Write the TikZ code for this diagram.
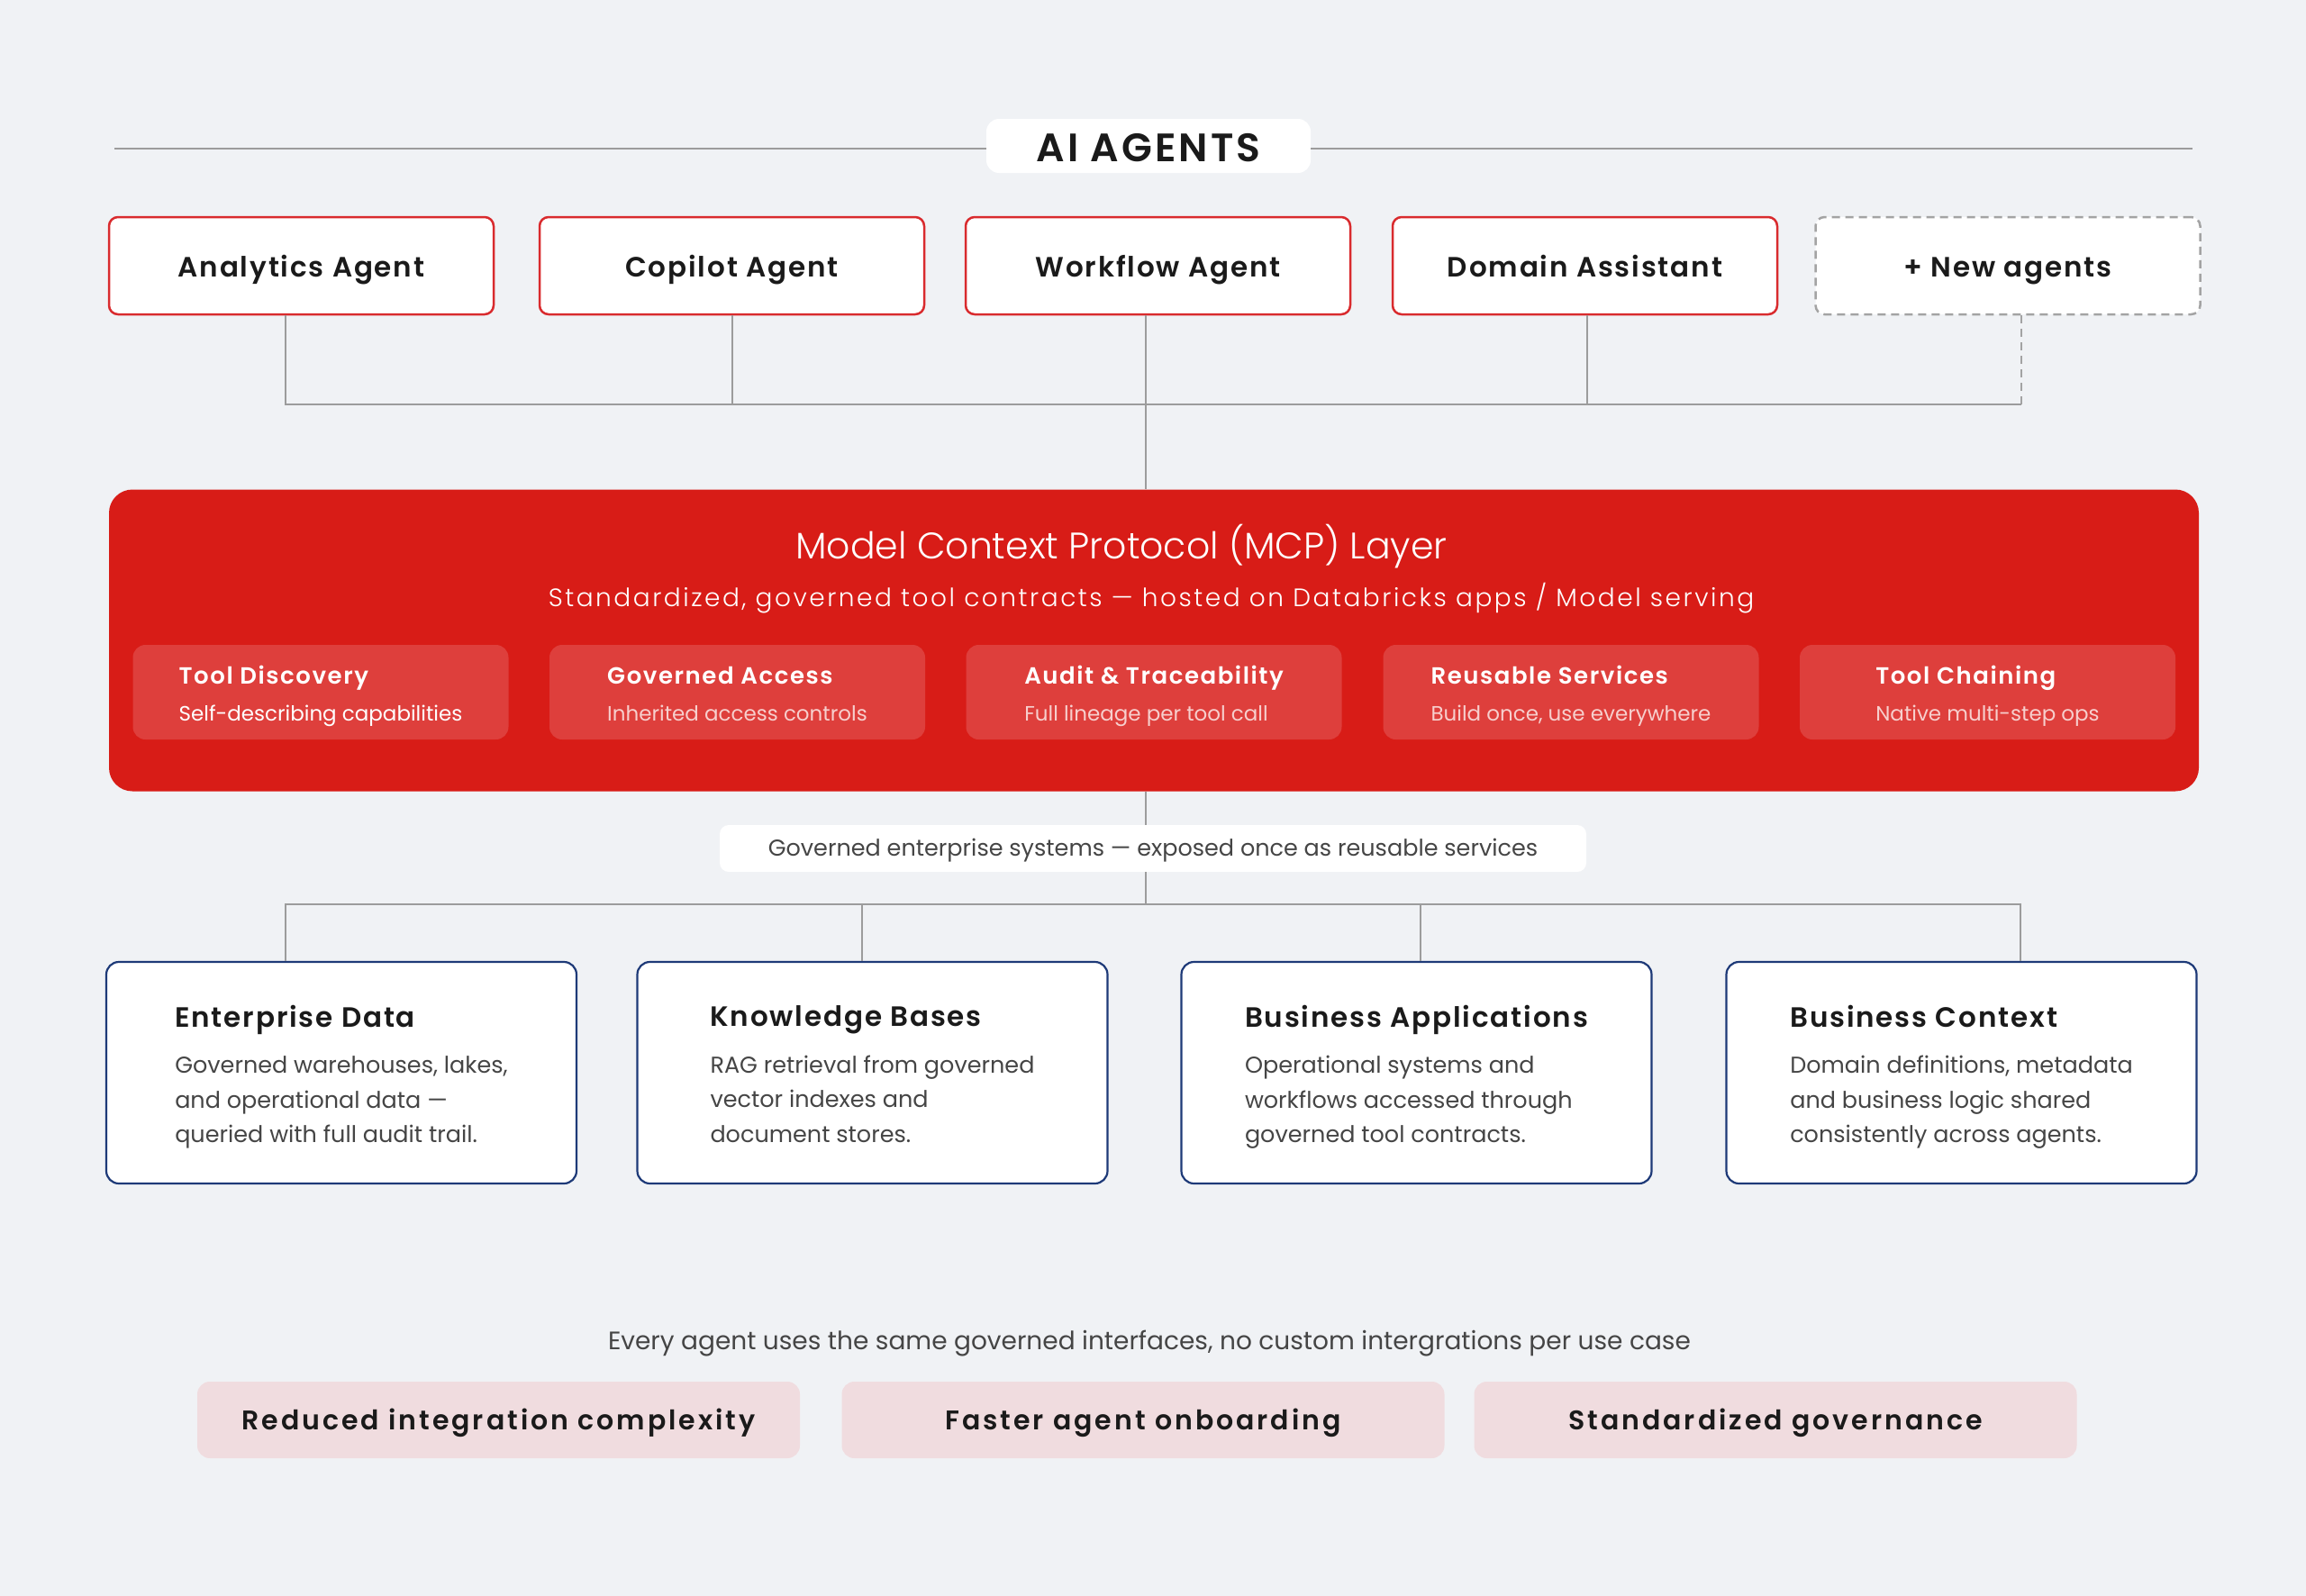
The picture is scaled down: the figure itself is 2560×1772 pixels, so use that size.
\documentclass[tikz,border=0pt]{standalone}
\usepackage{fontspec}
\setmainfont{Poppins}
\IfFontExistsTF{Poppins SemiBold}{\newfontfamily\fsemi{Poppins SemiBold}}{\newcommand\fsemi{\bfseries}}
\IfFontExistsTF{Poppins Light}{\newfontfamily\flight{Poppins Light}}{\newcommand\flight{}}
\newcommand\fsz[2]{\fontsize{#1}{#2}\selectfont}
\newcommand\lsp[1]{\addfontfeature{LetterSpace=#1}}
\definecolor{bgc}{HTML}{F0F2F5}
\definecolor{agred}{HTML}{D92B2E}
\definecolor{mcpred}{HTML}{D81C17}
\definecolor{subred}{HTML}{DE3F3C}
\definecolor{subtxt}{HTML}{F7CFCD}
\definecolor{navy}{HTML}{1E3A78}
\definecolor{conng}{HTML}{9C9C9C}
\definecolor{dashg}{HTML}{A3A3A3}
\definecolor{txtd}{HTML}{1A1A1A}
\definecolor{txtg}{HTML}{454545}
\definecolor{pill}{HTML}{F0DCDF}
\tikzset{
  conn/.style={draw=conng,line width=2pt},
  conndash/.style={draw=dashg,line width=2pt,dash pattern=on 9pt off 6pt},
  agent/.style={draw=agred,line width=2.5pt,fill=white,rounded corners=10pt,
    minimum width=427pt,minimum height=108pt,inner sep=0pt,text=txtd,
    text height=31pt,text depth=7pt,font=\fsemi\fsz{31}{37}\lsp{6}},
  newagent/.style={agent,draw=dashg,dash pattern=on 9pt off 6pt},
  titlebox/.style={fill=white,rounded corners=14pt,minimum width=360pt,
    minimum height=60pt,inner sep=0pt,text=txtd,text height=40pt,text depth=6pt,
    font=\fsemi\fsz{44}{50}\lsp{7}},
  mcpbox/.style={fill=mcpred,rounded corners=26pt,minimum width=2320pt,
    minimum height=335pt,inner sep=0pt},
  subbox/.style={fill=subred,rounded corners=14pt,minimum width=417pt,
    minimum height=105pt,inner sep=0pt},
  subtx/.style={inner sep=0pt,align=left,text=white,font=\fsz{23}{27}},
  sysbox/.style={draw=navy,line width=2.2pt,fill=white,rounded corners=14pt,
    minimum width=522pt,minimum height=246pt,inner sep=0pt},
  systx/.style={inner sep=0pt,align=left,text=txtg,font=\fsz{25.5}{38.5}},
  labbox/.style={fill=white,rounded corners=10pt,minimum width=962pt,
    minimum height=52pt,inner sep=0pt,text=txtg,text height=22pt,text depth=6pt,
    font=\fsz{25.5}{30}},
  pillbox/.style={fill=pill,rounded corners=14pt,minimum width=669pt,
    minimum height=85pt,inner sep=0pt,text=txtd,text height=28pt,text depth=7pt,
    font=\fsemi\fsz{30}{36}\lsp{10}},
}
\newcommand\subtext[3]{{\fsemi\fsz{26}{30}\lsp{6}#1\vphantom{Tly}}\\[14pt]\color{#3}#2\vphantom{Tgy}}
\newcommand\systext[2]{{\fsemi\fsz{31}{37}\lsp{6}\color{txtd}#1\vphantom{Tly}}\\[13pt]#2\vphantom{Tgy}}
\begin{document}
\begin{tikzpicture}[x=1pt,y=-1pt]
\fill[bgc] (0,0) rectangle (2560,1772);
\useasboundingbox (0,0) rectangle (2560,1772);

% ---- title
\coordinate (hlL) at (127,165);
\coordinate (hlR) at (2434,165);
\node[titlebox] (ttl) at (1275,162) {AI AGENTS};
\draw[conn] (hlL) -- (hlL -| ttl.west);
\draw[conn] (ttl.east |- hlR) -- (hlR);

% ---- agents
\node[agent] (a1) at (334.5,295) {Analytics Agent};
\node[agent] (a2) at (812.5,295) {Copilot Agent};
\node[agent] (a3) at (1285.5,295) {Workflow Agent};
\node[agent] (a4) at (1759.5,295) {Domain Assistant};
\node[newagent] (a5) at (2229,295) {+ New agents};

% ---- MCP layer
\node[mcpbox] (mcp) at (1281,711) {};
\node[text=white,font=\flight\fsz{41}{48}] (mcpt) at (1245,607) {Model Context Protocol (MCP) Layer};
\node[text=white,font=\flight\fsz{28}{32}\lsp{9}] (mcps) at (1278,664) {Standardized, governed tool contracts — hosted on Databricks apps / Model serving};

\node[subbox] (t1) at (356,768.5) {};
\node[subbox] (t2) at (818.5,768.5) {};
\node[subbox] (t3) at (1281,768.5) {};
\node[subbox] (t4) at (1744,768.5) {};
\node[subbox] (t5) at (2206.5,768.5) {};
\node[subtx] (t1x) at (356,773) {\subtext{Tool Discovery}{Self-describing capabilities}{white}};
\node[subtx] (t2x) at (818.5,773) {\subtext{Governed Access}{Inherited access controls}{subtxt}};
\node[subtx] (t3x) at (1281,773) {\subtext{Audit \& Traceability}{Full lineage per tool call}{subtxt}};
\node[subtx] (t4x) at (1744,773) {\subtext{Reusable Services}{Build once, use everywhere}{subtxt}};
\node[subtx] (t5x) at (2206.5,773) {\subtext{Tool Chaining}{Native multi-step ops}{subtxt}};

% ---- top connectors
\coordinate (bt1) at (317,449);
\coordinate (bt4) at (1762,449);
\coordinate (bt5) at (2244,449);
\coordinate (hub) at (1272,449);
\draw[conn] (a1.south -| bt1) -- (bt1) -- (bt4);
\draw[conn] (a2.south) -- (a2.south |- bt1);
\draw[conn] (a3.south -| hub) -- (hub) -- (hub |- mcp.north);
\draw[conn] (a4.south -| bt4) -- (bt4);
\draw[conndash] (a5.south -| bt5) -- (bt5);
\draw[conn] (bt5) -- (bt4);

% ---- label
\node[labbox] (lab) at (1280,942) {Governed enterprise systems — exposed once as reusable services};

% ---- systems
\node[sysbox] (s1) at (379,1191) {};
\node[sysbox] (s2) at (968.5,1191) {};
\node[sysbox] (s3) at (1572.5,1191) {};
\node[sysbox] (s4) at (2177.5,1191) {};
\node[systx] (s1x) at (379,1196) {\systext{Enterprise Data}{Governed warehouses, lakes,\\and operational data —\\queried with full audit trail.}};
\node[systx] (s2x) at (968.5,1196) {\systext{Knowledge Bases}{RAG retrieval from governed\\vector indexes and\\document stores.}};
\node[systx] (s3x) at (1572.5,1196) {\systext{Business Applications}{Operational systems and\\workflows accessed through\\governed tool contracts.}};
\node[systx] (s4x) at (2177.5,1196) {\systext{Business Context}{Domain definitions, metadata\\and business logic shared\\consistently across agents.}};

% ---- bottom connectors
\coordinate (hub2) at (1272,1004);
\coordinate (bb1) at (317,1004);
\coordinate (bb2) at (957,1004);
\coordinate (bb3) at (1577,1004);
\coordinate (bb4) at (2243,1004);
\draw[conn] (mcp.south -| hub) -- (lab.north -| hub);
\draw[conn] (lab.south -| hub2) -- (hub2);
\draw[conn] (bb1 |- s1.north) -- (bb1) -- (bb4) -- (bb4 |- s4.north);
\draw[conn] (bb2) -- (bb2 |- s2.north);
\draw[conn] (bb3) -- (bb3 |- s3.north);

% ---- footer
\node[text=txtg,font=\fsz{28}{32}] (foot) at (1276,1492) {Every agent uses the same governed interfaces, no custom intergrations per use case};
\node[pillbox] (p1) at (553.5,1576.5) {Reduced integration complexity};
\node[pillbox] (p2) at (1269,1576.5) {Faster agent onboarding};
\node[pillbox] (p3) at (1971,1576.5) {Standardized governance};
\end{tikzpicture}
\end{document}
